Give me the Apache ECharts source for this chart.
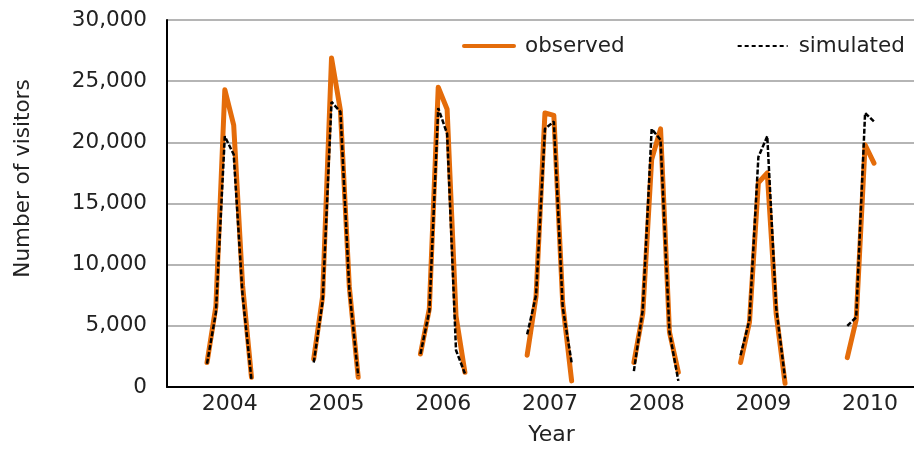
<!DOCTYPE html>
<html>
<head>
<meta charset="utf-8">
<script src="https://cdn.jsdelivr.net/npm/echarts@6/dist/echarts.min.js"></script>
<style>
  html, body { margin: 0; padding: 0; background: #fff; }
  #chart { width: 914px; height: 451px; }
</style>
</head>
<body>
<div id="chart"></div>
<script>
// 每年 5-10 月的游客数量
const years = [2004, 2005, 2006, 2007, 2008, 2009, 2010];
const seasonStart = 4; // May (Jan = 0)
const observed = [
  [2000, 6600, 24300, 21400, 8300, 800],
  [2300, 7400, 26900, 22600, 8200, 800],
  [2700, 6400, 24500, 22700, 5800, 1200],
  [2600, 7400, 22400, 22200, 6800, 500],
  [2000, 6000, 18600, 21100, 4500, 1200],
  [2000, 5300, 16700, 17500, 6000, 300],
  [2400, 5500, 19800, 18300]
];
const simulated = [
  [1900, 6100, 20500, 19000, 7500, 600],
  [2000, 7000, 23300, 22500, 8000, 900],
  [2700, 6200, 22800, 20700, 3000, 1100],
  [4300, 7500, 21100, 21700, 6500, 2000],
  [1300, 6300, 21100, 20200, 4500, 500],
  [2600, 5500, 18800, 20500, 6500, 700],
  [5000, 5700, 22400, 21700]
];
const yTicks = { min: 0, max: 30000, interval: 5000 };

// 月份类目 + 非旅游季填 null
const categories = [];
const toSeries = (rows) => {
  const out = [];
  years.forEach((y, yi) => {
    for (let m = 0; m < 12; m++) {
      const v = rows[yi][m - seasonStart];
      out.push(v === undefined ? null : v);
    }
  });
  return out;
};
years.forEach(y => {
  for (let m = 0; m < 12; m++) categories.push(y + '-' + (m + 1));
});

const font = 'DejaVu Sans';
const textColor = '#222';

let myChart = echarts.init(document.getElementById('chart'));
let option = {
  animation: false,
  grid: { left: 167, right: -9, top: 20, bottom: 59 },
  legend: {
    left: 457,
    top: 30,
    itemWidth: 50,
    itemHeight: 20,
    itemGap: 112,
    textStyle: { fontFamily: font, fontSize: 21.5, color: textColor, padding: [0, 0, 0, 6] },
    data: [
      { name: 'observed', itemStyle: { opacity: 0 }, lineStyle: { width: 4 } },
      { name: 'simulated', itemStyle: { opacity: 0 }, lineStyle: { width: 2, type: [4, 3] } }
    ]
  },
  xAxis: {
    type: 'category',
    data: categories,
    boundaryGap: true,
    name: 'Year',
    nameLocation: 'middle',
    nameGap: 37,
    nameTextStyle: { fontFamily: font, fontSize: 22, color: textColor, lineHeight: 22, padding: [0, 0, 0, 22] },
    axisLine: { show: true, lineStyle: { color: '#000', width: 2 } },
    axisTick: { show: false },
    axisLabel: {
      interval: (index) => index % 12 === 6,
      formatter: (value) => value.split('-')[0],
      margin: 6,
      lineHeight: 22,
      padding: [0, 0, 0, 10],
      fontFamily: font,
      fontSize: 22,
      color: textColor
    },
    splitLine: { show: false }
  },
  yAxis: {
    type: 'value',
    min: yTicks.min,
    max: yTicks.max,
    interval: yTicks.interval,
    name: 'Number of visitors',
    nameLocation: 'middle',
    nameGap: 133,
    nameTextStyle: { fontFamily: font, fontSize: 21.5, color: textColor, lineHeight: 22, padding: [0, 0, 0, 50] },
    axisLine: { show: true, lineStyle: { color: '#000', width: 2 } },
    axisTick: { show: false },
    axisLabel: {
      margin: 20,
      fontFamily: font,
      fontSize: 21.5,
      color: textColor,
      formatter: (v) => v.toLocaleString('en-US')
    },
    splitLine: { show: true, lineStyle: { color: '#9c9c9c', width: 1.5 } }
  },
  series: [
    {
      name: 'observed',
      type: 'line',
      data: toSeries(observed),
      symbol: 'none',
      connectNulls: false,
      lineStyle: { color: '#E46C0A', width: 5, join: 'round', cap: 'round' },
      itemStyle: { color: '#E46C0A' }
    },
    {
      name: 'simulated',
      type: 'line',
      data: toSeries(simulated),
      symbol: 'none',
      connectNulls: false,
      lineStyle: { color: '#000', width: 2.5, type: [5, 2] },
      itemStyle: { color: '#000' }
    }
  ]
};
myChart.setOption(option);
</script>
</body>
</html>
